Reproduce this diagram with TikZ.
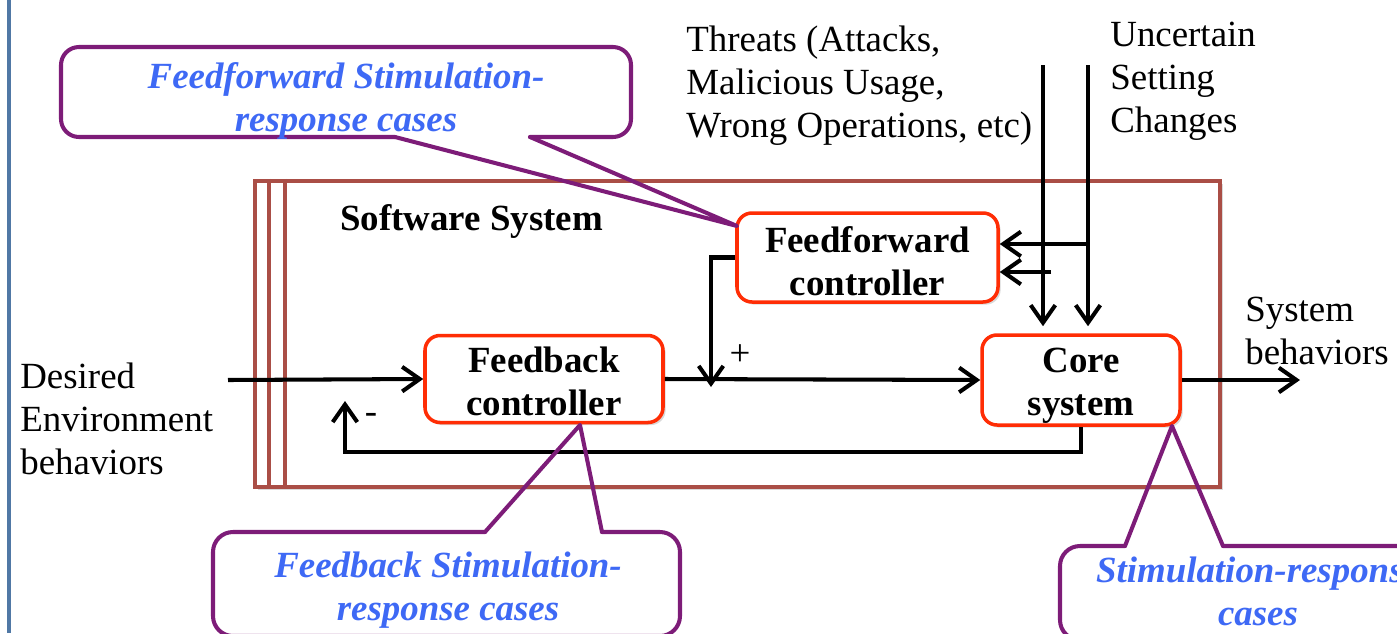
\documentclass[tikz,border=0pt]{standalone}
\usepackage{fontspec}
\setmainfont{Liberation Serif}
\usetikzlibrary{arrows.meta,shadows,calc}
\definecolor{barblue}{RGB}{80,120,165}
\definecolor{framebrown}{RGB}{170,78,70}
\definecolor{boxred}{RGB}{255,45,5}
\definecolor{notepurple}{RGB}{125,28,120}
\definecolor{noteblue}{RGB}{62,105,245}
\tikzset{
  unit/.style={draw=boxred, line width=2pt, rounded corners=0.3cm, fill=white, inner sep=0pt,
    drop shadow={shadow xshift=1.5pt, shadow yshift=-1.5pt, opacity=0.15, fill=black}},
  unittext/.style={align=center, inner sep=0pt, font=\fontsize{21}{24.5}\selectfont\bfseries},
  frame/.style={draw=framebrown, line width=2.3pt, fill=white, inner sep=0pt,
    drop shadow={shadow xshift=1.5pt, shadow yshift=-1.5pt, opacity=0.15, fill=black}},
  frameline/.style={draw=framebrown, line width=2.3pt},
  flow/.style={line width=2.3pt, -{Straight Barb[length=10pt,width=14pt]}},
  note/.style={draw=notepurple, line width=2.3pt, line join=round, line cap=round},
  notetext/.style={text=noteblue, align=center, inner sep=0pt,
    font=\fontsize{21}{24.5}\selectfont\bfseries\itshape},
  plain/.style={align=left, inner sep=0pt, font=\fontsize{21}{24.5}\selectfont}
}
\begin{document}
\begin{tikzpicture}[x=0.02cm,y=-0.02cm]
\useasboundingbox (0,0) rectangle (1397,633);
\clip (0,0) rectangle (1397,633);

% left margin bar
\draw[barblue, line width=2.8pt] (9,0) -- (9,633);

% software system frame
\node[frame, minimum width={965*0.02cm}, minimum height={306*0.02cm}] (sw) at (737.5,334) {};
\draw[frameline] ($(sw.north west)+(16,0)$) -- ($(sw.south west)+(16,0)$);
\draw[frameline] ($(sw.north west)+(32,0)$) -- ($(sw.south west)+(32,0)$);
\node[plain, anchor=base west, font=\fontsize{21}{24.5}\selectfont\bfseries] (swlabel) at (340,230) {Software System};

% controller blocks
\node[unit, minimum width={261*0.02cm}, minimum height={89*0.02cm}] (ff) at (867.5,257.5) {};
\node[unittext] (fftext) at ($(ff.center)+(0,4)$) {Feedforward\\controller};
\node[unit, minimum width={238*0.02cm}, minimum height={87*0.02cm}] (fb) at (544,379) {};
\node[unittext] (fbtext) at ($(fb.center)+(0,2)$) {Feedback\\controller};
\node[unit, minimum width={198*0.02cm}, minimum height={90*0.02cm}] (core) at (1081,380) {};
\node[unittext] (coretext) at ($(core.center)+(0,6)$) {Core\\system};

% outside texts
\node[plain, anchor=west] (threats) at (686,86) {Threats (Attacks,\\Malicious Usage,\\Wrong Operations, etc)};
\node[plain, anchor=west] (uncert) at (1110,81) {Uncertain\\Setting\\Changes};
\node[plain, anchor=west] (desired) at (20,419) {Desired\\Environment\\behaviors};
\node[plain, anchor=west] (sysout) at (1245,331) {System\\behaviors};
\node[plain] (plus) at (740,355) {+};
\node[plain] (minus) at (371,418) {-};

% signal flow
\coordinate (src) at (228,380);
\draw[flow] (src) -- (fb.west);
\draw[flow] (fb.east) -- (core.west);
\coordinate (sumpt) at (711,387);
\draw[flow] (ff.west) -| (sumpt);
\coordinate (fbret) at (345,401);
\draw[flow] (core.south) -- ++(0,25) -| (fbret);
\coordinate (sink) at (1300,380);
\draw[flow] (core.east) -- (sink);

% disturbances
\coordinate (threat) at (1043,65);
\coordinate (change) at (1088,65);
\draw[flow, shorten >=4pt] (threat) -- (threat |- core.north);
\draw[flow, shorten >=4pt] (change) -- (change |- core.north);
\coordinate (chgtap) at (1088,244);
\coordinate (thrtap) at (1051,272);
\draw[flow] (chgtap) -- (chgtap -| ff.east);
\draw[flow] (thrtap) -- (thrtap -| ff.east);

% callout: feedforward cases
\coordinate (tipA) at (737,226);
\draw[note, rounded corners=0.36cm] (530,137) -- (631,137) -- (631,47) -- (61,47) -- (61,137) -- (395,137);
\draw[note] (395,137) -- (tipA) -- (530,137);
\node[notetext] (noteA) at (346,101) {Feedforward Stimulation-\\response cases};

% callout: feedback cases
\coordinate (tipB) at (580,425);
\draw[note, rounded corners=0.4cm] (602,532) -- (680,532) -- (680,636) -- (213,636) -- (213,532) -- (485,532);
\draw[note] (485,532) -- (tipB) -- (602,532);
\node[notetext] (noteB) at (448,590) {Feedback Stimulation-\\response cases};

% callout: core cases
\coordinate (tipC) at (1172,426);
\draw[note, rounded corners=0.4cm] (1223,546) -- (1456,546) -- (1456,640) -- (1060,640) -- (1060,546) -- (1125,546);
\draw[note] (1125,546) -- (tipC) -- (1223,546);
\node[notetext] (noteC) at (1258,591) {Stimulation-response\\cases};
\end{tikzpicture}
\end{document}
